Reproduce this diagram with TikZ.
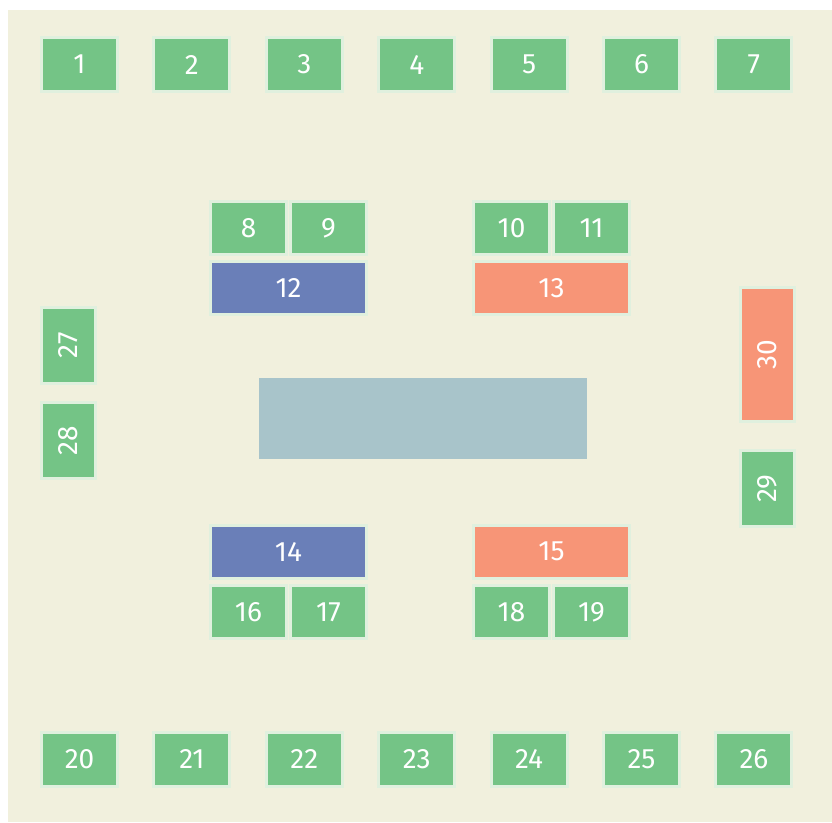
\documentclass[tikz,border=0pt]{standalone}
\usepackage{fontspec}
\setmainfont{Fira Sans}
\usepackage{tikz}
\usetikzlibrary{positioning}
\definecolor{bgcol}{RGB}{241,240,221}
\definecolor{edgecol}{RGB}{224,240,222}
\definecolor{seatgreen}{RGB}{116,196,134}
\definecolor{seatblue}{RGB}{106,127,184}
\definecolor{seatred}{RGB}{247,149,119}
\definecolor{tablecol}{RGB}{168,196,202}
\tikzstyle{seat}=[draw=edgecol,line width=3pt,fill=seatgreen,text=white,minimum width=76pt,minimum height=54pt,inner sep=0pt,outer sep=0pt,font=\fontsize{28}{30}\selectfont]
\tikzstyle{wide}=[seat,minimum width=156pt,minimum height=53pt]
\tikzstyle{pair}=[seat,minimum height=53pt]

\begin{document}
\begin{tikzpicture}[x=1pt,y=-1pt]
\useasboundingbox (0,0) rectangle (832,822);
\fill[bgcol] (8,10) rectangle (832,822);
% rows at top and bottom
\foreach \i in {1,...,7}{\node[seat] at ({79.5+112.4*(\i-1)},64.5)(s\i){\i};}
\foreach \i in {20,...,26}{\node[seat] at ({79.5+112.4*(\i-20)},759)(s\i){\i};}

\node[pair] at (248.5,228)(s8){8};
\node[pair] at (328.5,228)(s9){9};
\node[pair] at (511.5,228)(s10){10};
\node[pair] at (591.5,228)(s11){11};
\node[wide,fill=seatblue] at (288.5,288)(s12){12};
\node[wide,fill=seatred] at (551.5,288)(s13){13};

\fill[tablecol] (259,378) rectangle (587,459);

\node[wide,fill=seatblue] at (288.5,551.5)(s14){14};
\node[wide,fill=seatred] at (551.5,551.5)(s15){15};
\node[pair] at (248.5,612)(s16){16};
\node[pair] at (328.5,612)(s17){17};
\node[pair] at (511.5,612)(s18){18};
\node[pair] at (591.5,612)(s19){19};

% sides
\node[seat,rotate=90] at (68.5,345)(s27){27};
\node[seat,rotate=90] at (68.5,440.5)(s28){28};
\node[seat,rotate=90] at (767.5,488.5)(s29){29};
\node[seat,rotate=90,fill=seatred,minimum width=134pt] at (767.5,354.5)(s30){30};
\end{tikzpicture}
\end{document}
